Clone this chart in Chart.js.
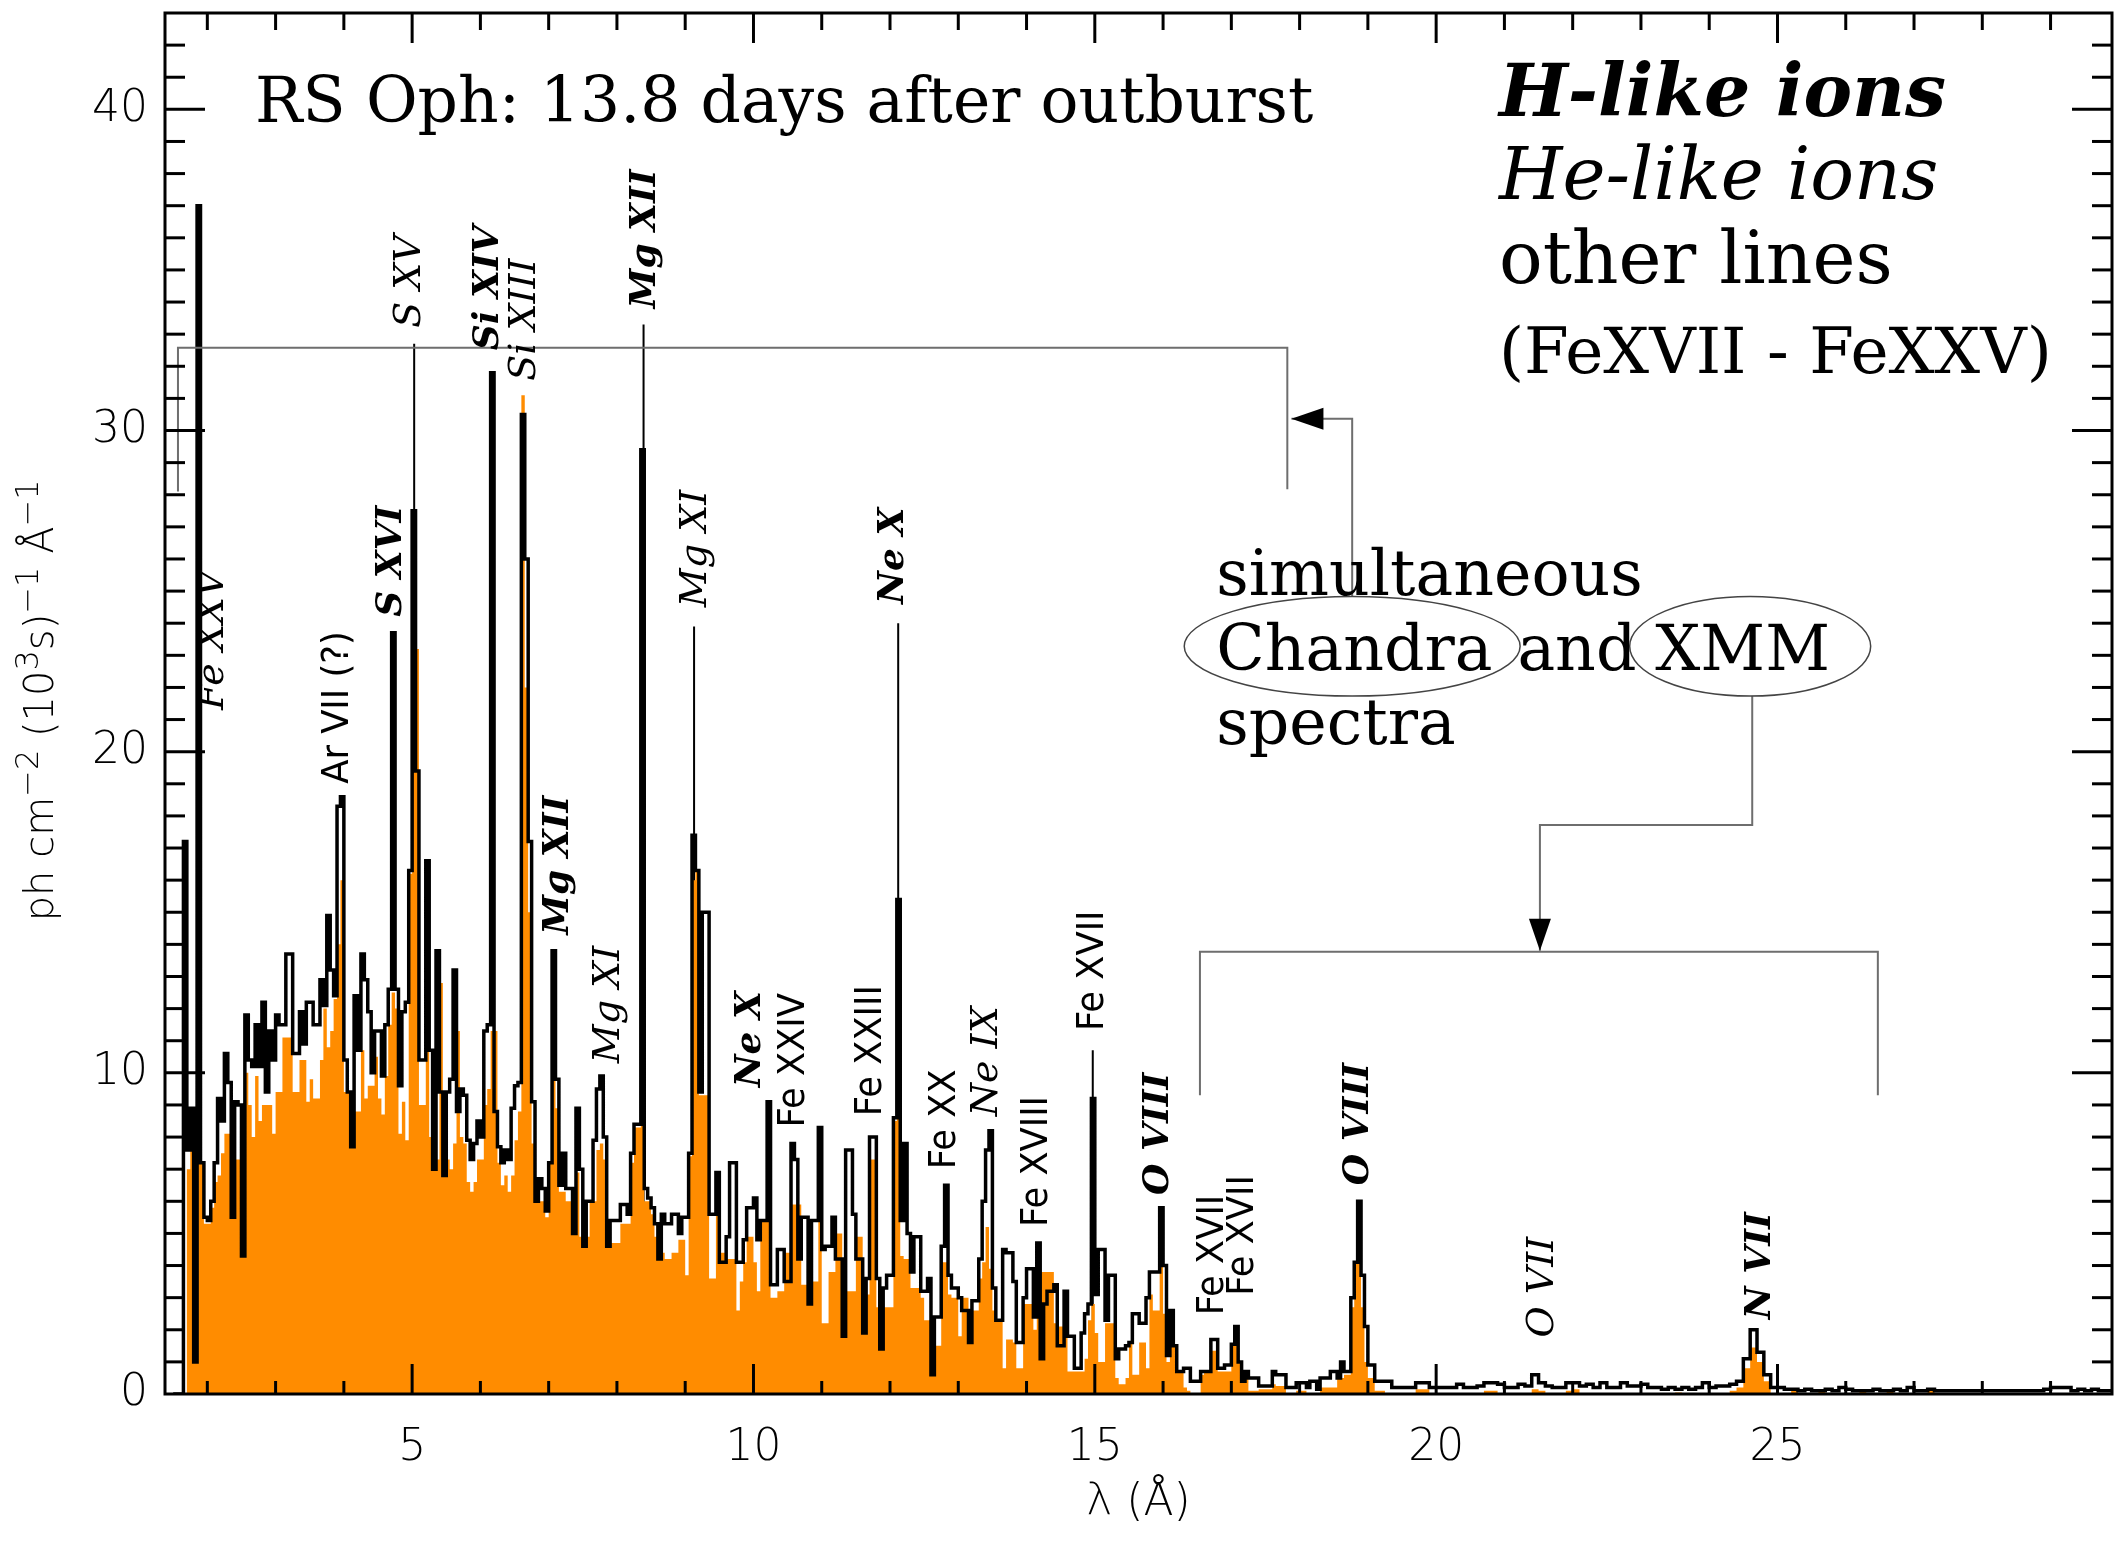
<!DOCTYPE html>
<html lang="en">
<head>
<meta charset="utf-8">
<title>RS Oph X-ray spectrum</title>
<script src="https://cdn.jsdelivr.net/npm/chart.js@4.4.1/dist/chart.umd.min.js"></script>
<style>
  html, body { margin: 0; padding: 0; background: #ffffff; }
  #frame { position: relative; width: 2115px; height: 1542px; }
</style>
</head>
<body>
<div id="frame"><canvas id="spectrumChart" width="2115" height="1542"></canvas></div>
<script>
// RS Oph, 13.8 days after outburst: simultaneous Chandra (black) and XMM (orange) spectra

// wavelength grid in Å: 0.05 Å bins below 20 Å, 0.1 Å bins above
const FINE_START = 1.50;
const FINE_STEP = 0.05;
const COARSE_START = 20.0;
const COARSE_STEP = 0.1;
const SPEC_END = 29.9;

// Chandra flux, ph cm^-2 (10^3 s)^-1 Å^-1, one row per 0.5 Å
const chandraFine = [
  0, 0, 0, 17.2, 7.6, 8.9, 1.0, 37.0, 7.2, 5.5,            // 1.50
  5.4, 6.0, 7.2, 9.2, 8.5, 10.6, 9.7, 5.5, 9.1, 9.0,       // 2.00
  4.3, 11.8, 10.4, 10.2, 11.5, 10.2, 12.2, 9.4, 11.3, 10.4, // 2.50
  11.8, 11.5, 11.5, 13.7, 13.7, 10.6, 10.6, 11.9, 10.9, 12.2, // 3.00
  12.2, 11.5, 11.5, 12.9, 12.1, 14.9, 13.2, 12.4, 18.3, 18.6, // 3.50
  10.4, 9.4, 7.7, 12.4, 10.7, 13.7, 12.9, 11.9, 10.0, 11.3, // 4.00
  11.3, 9.9, 11.5, 12.6, 23.7, 12.6, 9.6, 11.9, 12.2, 16.3, // 4.50
  27.5, 19.4, 10.4, 10.4, 16.6, 10.7, 7.0, 13.8, 9.4, 6.8,  // 5.00
  9.4, 9.8, 13.2, 8.8, 9.5, 9.3, 7.9, 7.3, 7.8, 8.5,        // 5.50
  8.0, 11.3, 11.5, 31.8, 8.8, 7.7, 7.2, 7.6, 7.3, 8.9,      // 6.00
  9.6, 9.7, 30.5, 26.0, 17.2, 9.1, 6.0, 6.7, 6.4, 5.7,      // 6.50
  7.2, 13.8, 9.8, 6.5, 7.5, 6.4, 6.4, 5.0, 8.9, 7.0,        // 7.00
  4.6, 6.0, 6.0, 7.9, 9.5, 9.9, 8.0, 4.6, 5.4, 5.4,         // 7.50
  5.4, 5.9, 5.9, 5.6, 7.5, 8.4, 8.4, 29.4, 6.4, 6.1,        // 8.00
  5.8, 5.3, 4.2, 5.6, 5.3, 5.3, 5.6, 5.6, 5.0, 5.5,         // 8.50
  5.5, 7.5, 17.4, 16.3, 9.4, 15.0, 15.0, 5.6, 5.6, 6.9,     // 9.00
  4.1, 4.1, 4.9, 7.2, 7.2, 4.1, 4.1, 4.8, 5.8, 5.8,         // 9.50
  6.1, 4.8, 5.4, 5.4, 9.1, 3.4, 3.4, 4.5, 4.5, 3.5,         // 10.00
  3.5, 7.8, 7.3, 4.2, 5.5, 5.5, 2.8, 5.4, 5.4, 8.3,         // 10.50
  4.5, 4.6, 4.6, 5.5, 4.2, 4.2, 1.8, 7.6, 7.6, 5.6,         // 11.00
  4.2, 4.2, 1.9, 3.6, 8.0, 8.0, 3.6, 1.4, 3.3, 3.7,         // 11.50
  3.7, 8.6, 15.4, 5.4, 7.8, 5.0, 3.8, 4.9, 4.9, 3.2,        // 12.00
  3.2, 3.6, 0.6, 2.4, 2.4, 4.6, 6.5, 3.7, 3.3, 3.3,         // 12.50
  3.0, 2.6, 2.6, 1.6, 2.9, 2.9, 4.2, 6.0, 7.6, 8.2,         // 13.00
  3.3, 2.3, 2.3, 4.5, 4.4, 4.4, 3.5, 1.6, 1.6, 3.0,         // 13.50
  3.9, 3.9, 2.4, 4.7, 1.1, 2.8, 3.2, 3.2, 3.4, 1.5,         // 14.00
  1.5, 3.2, 1.8, 1.8, 0.8, 0.8, 1.9, 2.5, 2.8, 9.2,         // 14.50
  3.1, 4.5, 4.5, 2.3, 3.7, 3.7, 1.1, 1.4, 1.4, 1.5,         // 15.00
  1.6, 2.5, 2.5, 2.2, 2.2, 3.0, 3.8, 3.8, 3.8, 5.8,         // 15.50
  4.0, 1.2, 2.6, 1.5, 0.7, 0.7, 0.8, 0.8, 0.4, 0.4,         // 16.00
  0.4, 0.7, 0.7, 0.7, 1.7, 1.7, 0.8, 0.8, 0.9, 0.9,         // 16.50
  1.55, 2.1, 1.0, 0.4, 0.7, 0.5, 0.5, 0.5, 0.25, 0.25,      // 17.00
  0.25, 0.25, 0.7, 0.6, 0.6, 0.6, 0.2, 0.2, 0.2, 0.35,      // 17.50
  0.35, 0.35, 0.2, 0.4, 0.4, 0.15, 0.5, 0.5, 0.5, 0.7,      // 18.00
  0.7, 0.5, 1.0, 0.7, 0.7, 3.0, 4.1, 6.0, 3.7, 2.1,         // 18.50
  0.9, 0.9, 0.4, 0.4, 0.4, 0.4, 0.4, 0.2, 0.2, 0.2,         // 19.00
  0.2, 0.2, 0.2, 0.2, 0.35, 0.35, 0.35, 0.35, 0.2, 0.2      // 19.50
];

// XMM flux, same bins
const xmmFine = [
  0, 0, 0, 0, 7.0, 8.7, 7.0, 9.0, 7.2, 5.3,                // 1.50
  5.3, 5.8, 6.6, 6.8, 7.5, 8.1, 8.1, 7.3, 7.3, 7.3,         // 2.00
  8.0, 10.0, 9.0, 8.0, 9.9, 8.5, 9.0, 9.0, 9.0, 8.1,        // 2.50
  9.4, 9.4, 11.1, 11.1, 11.1, 9.4, 9.4, 10.4, 10.4, 9.1,    // 3.00
  9.8, 9.2, 9.2, 10.4, 12.0, 10.8, 11.3, 12.3, 14.0, 16.0,  // 3.50
  9.4, 9.4, 8.5, 8.8, 8.8, 10.7, 9.2, 9.6, 9.6, 10.5,       // 4.00
  9.2, 8.7, 9.9, 11.5, 12.5, 12.0, 8.1, 9.1, 7.9, 16.2,     // 4.50
  19.4, 23.2, 9.0, 9.0, 16.5, 8.0, 7.0, 7.3, 12.8, 6.8,     // 5.00
  7.3, 7.0, 7.8, 11.3, 8.0, 7.8, 6.6, 6.3, 6.6, 7.3,        // 5.50
  7.3, 9.0, 9.5, 11.3, 11.3, 7.2, 6.5, 6.8, 6.3, 6.8,       // 6.00
  7.9, 8.8, 31.1, 22.0, 15.0, 7.8, 6.0, 6.0, 6.0, 5.5,      // 6.50
  7.2, 9.8, 8.9, 6.3, 6.3, 6.0, 6.0, 5.0, 6.9, 4.9,         // 7.00
  4.6, 4.9, 6.0, 6.0, 7.6, 7.8, 7.3, 4.7, 4.7, 4.7,         // 7.50
  4.7, 5.3, 5.3, 5.3, 7.2, 8.3, 8.3, 21.3, 6.0, 6.0,        // 8.00
  5.6, 4.9, 4.4, 4.4, 4.2, 4.2, 4.4, 4.4, 4.8, 4.8,         // 8.50
  3.7, 7.4, 16.0, 16.3, 9.3, 9.3, 9.3, 3.6, 3.6, 5.6,       // 9.00
  4.4, 4.4, 4.2, 4.2, 4.2, 2.6, 3.5, 4.1, 4.9, 4.9,         // 9.50
  4.1, 3.2, 5.4, 5.4, 8.3, 3.0, 3.0, 3.2, 3.2, 4.4,         // 10.00
  4.4, 5.9, 5.9, 5.9, 3.4, 3.4, 4.1, 3.5, 3.5, 8.3,         // 10.50
  2.2, 2.2, 3.8, 3.8, 5.0, 5.0, 3.6, 3.2, 3.2, 3.2,         // 11.00
  4.9, 4.9, 3.1, 3.1, 7.3, 7.3, 2.7, 2.2, 2.7, 2.7,         // 11.50
  2.7, 8.5, 11.9, 4.3, 4.2, 4.2, 3.3, 3.3, 3.3, 3.0,        // 12.00
  2.3, 2.3, 1.5, 1.5, 1.5, 4.1, 4.1, 3.1, 3.0, 3.0,         // 12.50
  1.8, 3.0, 3.0, 1.6, 2.6, 2.6, 3.6, 4.1, 5.2, 3.9,         // 13.00
  2.6, 2.3, 2.3, 0.8, 1.7, 1.7, 1.6, 0.8, 0.8, 2.8,         // 13.50
  2.8, 2.8, 2.0, 3.8, 3.8, 3.8, 3.8, 3.8, 2.2, 2.1,         // 14.00
  2.1, 2.1, 0.7, 0.7, 0.7, 0.7, 0.7, 1.1, 2.3, 2.8,         // 14.50
  1.9, 1.0, 1.0, 2.2, 2.2, 2.2, 0.5, 0.3, 0.3, 0.5,         // 15.00
  1.6, 0.6, 0.6, 1.6, 1.6, 0.8, 3.1, 2.6, 2.6, 5.8,         // 15.50
  2.5, 1.0, 2.5, 1.5, 0.7, 0.7, 0.2, 0.1, 0.0, 0.0,         // 16.00
  0.0, 0.6, 0.7, 0.7, 1.35, 1.35, 0.7, 0.7, 0.7, 0.7,       // 16.50
  1.5, 1.65, 1.0, 0.4, 0.6, 0.1, 0.1, 0.1, 0.15, 0.15,      // 17.00
  0.15, 0.15, 0.3, 0.25, 0.25, 0.25, 0.0, 0.0, 0.0, 0.1,    // 17.50
  0.1, 0.1, 0.0, 0.0, 0.0, 0.0, 0.2, 0.2, 0.2, 0.2,         // 18.00
  0.2, 0.5, 0.5, 0.6, 0.6, 2.7, 4.1, 4.1, 2.7, 1.0,         // 18.50
  0.5, 0.5, 0.1, 0.1, 0.1, 0.0, 0.0, 0.0, 0.0, 0.0,         // 19.00
  0.0, 0.0, 0.0, 0.0, 0.15, 0.15, 0.15, 0.15, 0.0, 0.0      // 19.50
];

// one row per Å, 20.0 .. 29.8
const chandraCoarse = [
  0.2, 0.2, 0.2, 0.3, 0.2, 0.2, 0.25, 0.35, 0.35, 0.3,      // 20
  0.2, 0.2, 0.3, 0.25, 0.6, 0.35, 0.25, 0.2, 0.2, 0.35,     // 21
  0.35, 0.25, 0.3, 0.2, 0.35, 0.2, 0.2, 0.35, 0.25, 0.25,   // 22
  0.3, 0.2, 0.2, 0.15, 0.2, 0.15, 0.2, 0.15, 0.2, 0.35,     // 23
  0.2, 0.25, 0.25, 0.3, 0.4, 1.1, 2.0, 1.3, 0.6, 0.2,       // 24
  0.2, 0.15, 0.15, 0.1, 0.15, 0.1, 0.1, 0.15, 0.1, 0.2,     // 25
  0.15, 0.1, 0.1, 0.1, 0.15, 0.1, 0.1, 0.15, 0.1, 0.2,      // 26
  0.1, 0.1, 0.15, 0.1, 0.1, 0.1, 0.1, 0.1, 0.1, 0.1,        // 27
  0.1, 0.1, 0.1, 0.1, 0.1, 0.1, 0.1, 0.1, 0.1, 0.15,        // 28
  0.2, 0.2, 0.2, 0.1, 0.15, 0.1, 0.15, 0.1, 0.1             // 29
];

const xmmCoarse = [
  0, 0, 0, 0, 0, 0, 0, 0.1, 0.1, 0,                         // 20
  0, 0, 0, 0, 0.15, 0.1, 0, 0, 0, 0.1,                      // 21
  0.15, 0, 0, 0, 0, 0, 0, 0, 0, 0,                          // 22
  0, 0, 0, 0, 0, 0.05, 0, 0, 0, 0,                          // 23
  0, 0, 0, 0.1, 0.2, 0.8, 1.45, 1.0, 0.4, 0,                // 24
  0, 0, 0.1, 0, 0, 0, 0.1, 0, 0, 0,                         // 25
  0, 0, 0.1, 0, 0, 0, 0.1, 0, 0, 0,                         // 26
  0, 0, 0.1, 0, 0, 0, 0, 0, 0, 0,                           // 27
  0, 0, 0, 0, 0, 0, 0, 0, 0, 0,                             // 28
  0, 0, 0, 0, 0, 0, 0, 0, 0                                 // 29
];

// thin marker lines above the strongest peaks
const leaderWave = [5.03, 8.39, 9.13, 12.12, 14.97];
const leaderTop = [32.7, 33.3, 23.9, 24.0, 10.7];

// line identifications
const lineLabelText = ['Fe XXV', 'Ar VII (?)', 'S XVI', 'S XV', 'Si XIV', 'Si XIII', 'Mg XII', 'Mg XI',
  'Mg XII', 'Mg XI', 'Ne X', 'Fe XXIV', 'Fe XXIII', 'Ne X', 'Fe XX', 'Ne IX', 'Fe XVIII', 'Fe XVII',
  'O VIII', 'Fe XVII', 'Fe XVII', 'O VIII', 'O VII', 'N VII'];
const lineLabelWave = [2.08, 3.92, 4.70, 4.97, 6.12, 6.65, 7.14, 7.88, 8.42, 9.16, 9.96, 10.59,
  11.72, 12.06, 12.81, 13.42, 14.15, 14.97, 15.93, 16.74, 17.17, 18.86, 21.56, 24.76];
const lineLabelBase = [21.3, 19.0, 24.2, 33.2, 32.5, 31.55, 14.3, 10.3, 33.8, 24.5, 9.55, 8.3,
  8.65, 24.6, 7.0, 8.65, 5.2, 11.3, 6.2, 2.45, 3.06, 6.5, 1.76, 2.33];
const lineLabelKind = ['he', 'other', 'h', 'he', 'h', 'he', 'h', 'he', 'h', 'he', 'h', 'other',
  'other', 'h', 'other', 'he', 'other', 'other', 'h', 'other', 'other', 'h', 'he', 'h'];

const xTickValues = [5, 10, 15, 20, 25];
const yTickValues = [0, 10, 20, 30, 40];

const titleText = 'RS Oph: 13.8 days after outburst';
const legendText = ['H-like ions', 'He-like ions', 'other lines', '(FeXVII - FeXXV)'];
const noteWords = ['simultaneous', 'Chandra', 'and', 'XMM', 'spectra'];
// y axis title pieces: [text, superscript?]
const yTitleParts = [['ph cm', false], ['\u22122', true], [' (10', false], ['3', true], ['s)', false],
  ['\u22121', true], [' \u00C5', false], ['\u22121', true]];

// ---- layout (data coordinates) ----
const SERIF = '"DejaVu Serif", serif';
const SANS = '"DejaVu Sans", sans-serif';
const ORANGE = '#ff8c00';
const GUIDE = '#6e6e6e';

const labelStyle = {
    h: { font: 'italic bold 36px ' + SERIF, squeeze: 1 },
    he: { font: 'italic 38px ' + SERIF, squeeze: 1 },
    other: { font: '38px ' + SANS, squeeze: 0.93 }
};

const titlePos = { left: 2.70, right: 18.2, base: 39.6 };
const legendLeft = 20.92;
const legendRight = [27.47, 27.36, 26.69, 29.02];
const legendBase = [39.8, 37.2, 34.6, 31.8];
const legendFont = ['italic bold', 'italic', 'normal', 'normal'];
const noteLeft = [16.78, 16.78, 21.19, 23.21, 16.78];
const noteBase = [24.88, 22.54, 22.54, 22.54, 20.24];
const noteFitRight = 23.03;

const ellipseCenter = [18.77, 24.60];
const ellipseRx = [2.46, 1.765];
const ellipseCy = 23.28;
const ellipseRy = 1.55;

const chandraBracket = [[1.57, 28.1], [1.57, 32.58], [17.82, 32.58], [17.82, 28.17]];
const xmmBracket = [[16.54, 9.3], [16.54, 13.77], [26.47, 13.77], [26.47, 9.3]];
const chandraLink = [[18.77, 24.83], [18.77, 30.37], [17.88, 30.37]];
const xmmLink = [[24.63, 21.73], [24.63, 17.72], [21.52, 17.72], [21.52, 13.80]];

// 构建阶梯直方图数据
function buildHistogram(fine, coarse) {
    const pts = fine.map((v, i) => ({ x: +(FINE_START + i * FINE_STEP).toFixed(2), y: v }));
    coarse.forEach((v, i) => pts.push({ x: +(COARSE_START + i * COARSE_STEP).toFixed(2), y: v }));
    pts.push({ x: SPEC_END, y: coarse[coarse.length - 1] });
    return pts;
}

function buildLeaders() {
    const pts = [];
    leaderWave.forEach((w, i) => {
        pts.push({ x: w, y: 0 }, { x: w, y: leaderTop[i] }, { x: w, y: null });
    });
    return pts;
}

function fitFontSize(ctx, text, style, family, width) {
    ctx.font = style + ' 100px ' + family;
    return 100 * width / ctx.measureText(text).width;
}

function strokePath(ctx, pts) {
    ctx.beginPath();
    pts.forEach((p, i) => (i ? ctx.lineTo(p[0], p[1]) : ctx.moveTo(p[0], p[1])));
    ctx.stroke();
}

function arrowHead(ctx, from, tip) {
    const a = Math.atan2(tip[1] - from[1], tip[0] - from[0]);
    const len = 32, half = 11;
    const bx = tip[0] - len * Math.cos(a), by = tip[1] - len * Math.sin(a);
    ctx.beginPath();
    ctx.moveTo(tip[0], tip[1]);
    ctx.lineTo(bx + half * Math.sin(a), by - half * Math.cos(a));
    ctx.lineTo(bx - half * Math.sin(a), by + half * Math.cos(a));
    ctx.closePath();
    ctx.fill();
}

function seg(ctx, x1, y1, x2, y2) {
    ctx.beginPath();
    ctx.moveTo(x1, y1);
    ctx.lineTo(x2, y2);
    ctx.stroke();
}

// y 轴标题（带上标）
function drawYTitle(ctx, cx, cy) {
    const baseFont = '200 40px ' + SANS;
    const supFont = '200 32px ' + SANS;
    let total = 0;
    const widths = yTitleParts.map(([t, sup]) => {
        ctx.font = sup ? supFont : baseFont;
        const w = ctx.measureText(t).width;
        total += w;
        return w;
    });
    ctx.save();
    ctx.translate(cx, cy);
    ctx.rotate(-Math.PI / 2);
    ctx.textAlign = 'left';
    ctx.textBaseline = 'alphabetic';
    let pos = -total / 2;
    yTitleParts.forEach(([t, sup], i) => {
        ctx.font = sup ? supFont : baseFont;
        ctx.fillText(t, pos, sup ? -15 : 0);
        pos += widths[i];
    });
    ctx.restore();
}

// 注释、标签、边框和刻度
const spectrumDecor = {
    id: 'spectrumDecor',
    afterDatasetsDraw(chart) {
        const { ctx, chartArea: area } = chart;
        const xs = chart.scales.x, ys = chart.scales.y;
        const px = v => xs.getPixelForValue(v);
        const py = v => ys.getPixelForValue(v);
        const toPx = p => [px(p[0]), py(p[1])];

        ctx.save();

        // brackets and connectors
        ctx.strokeStyle = GUIDE;
        ctx.lineWidth = 2;
        [chandraBracket, xmmBracket, chandraLink, xmmLink].forEach(path => strokePath(ctx, path.map(toPx)));
        ctx.fillStyle = '#000';
        [chandraLink, xmmLink].forEach(path => {
            const p = path.map(toPx);
            arrowHead(ctx, p[p.length - 2], p[p.length - 1]);
        });

        // ellipses round the instrument names
        ctx.strokeStyle = '#444';
        ctx.lineWidth = 1.5;
        ellipseCenter.forEach((c, i) => {
            ctx.beginPath();
            ctx.ellipse(px(c), py(ellipseCy), px(c + ellipseRx[i]) - px(c), py(ellipseCy - ellipseRy) - py(ellipseCy), 0, 0, Math.PI * 2);
            ctx.stroke();
        });

        // title, legend and note
        ctx.fillStyle = '#000';
        ctx.textAlign = 'left';
        ctx.textBaseline = 'alphabetic';
        let size = fitFontSize(ctx, titleText, 'normal', SERIF, px(titlePos.right) - px(titlePos.left));
        ctx.font = size.toFixed(1) + 'px ' + SERIF;
        ctx.fillText(titleText, px(titlePos.left), py(titlePos.base));

        legendText.forEach((t, i) => {
            const s = fitFontSize(ctx, t, legendFont[i], SERIF, px(legendRight[i]) - px(legendLeft));
            ctx.font = legendFont[i] + ' ' + s.toFixed(1) + 'px ' + SERIF;
            ctx.fillText(t, px(legendLeft), py(legendBase[i]));
        });

        size = fitFontSize(ctx, noteWords[0], 'normal', SERIF, px(noteFitRight) - px(noteLeft[0]));
        ctx.font = size.toFixed(1) + 'px ' + SERIF;
        noteWords.forEach((t, i) => ctx.fillText(t, px(noteLeft[i]), py(noteBase[i])));

        // rotated line identifications
        ctx.textBaseline = 'middle';
        lineLabelText.forEach((t, i) => {
            const st = labelStyle[lineLabelKind[i]];
            ctx.save();
            ctx.translate(px(lineLabelWave[i]), py(lineLabelBase[i]));
            ctx.rotate(-Math.PI / 2);
            ctx.scale(st.squeeze, 1);
            ctx.font = st.font;
            ctx.fillText(t, 0, 0);
            ctx.restore();
        });

        // frame and inward ticks on all sides
        ctx.strokeStyle = '#000';
        ctx.lineWidth = 3;
        for (let w = Math.ceil(xs.min); w <= Math.floor(xs.max); w++) {
            const major = w % 5 === 0;
            const x = px(w);
            seg(ctx, x, area.bottom, x, area.bottom - (major ? 30 : 13));
            seg(ctx, x, area.top, x, area.top + (major ? 30 : 17));
        }
        for (let v = 1; v < ys.max; v++) {
            const major = v % 10 === 0;
            const y = py(v);
            seg(ctx, area.left, y, area.left + (major ? 40 : 20), y);
            seg(ctx, area.right, y, area.right - (major ? 40 : 20), y);
        }
        ctx.strokeRect(area.left, area.top, area.right - area.left, area.bottom - area.top);

        drawYTitle(ctx, 53, py(21.6));

        ctx.restore();
    }
};

const tickFont = { family: SANS, size: 44, weight: '200' };

new Chart(document.getElementById('spectrumChart'), {
    type: 'line',
    data: {
        datasets: [{
            label: 'Chandra',
            data: buildHistogram(chandraFine, chandraCoarse),
            borderColor: '#000',
            borderWidth: 3.5,
            borderJoinStyle: 'miter',
            stepped: true,
            fill: false,
            pointRadius: 0,
            order: 0
        }, {
            label: 'XMM',
            data: buildHistogram(xmmFine, xmmCoarse),
            borderColor: 'rgba(0,0,0,0)',
            borderWidth: 0,
            backgroundColor: ORANGE,
            stepped: true,
            fill: 'origin',
            pointRadius: 0,
            order: 1
        }, {
            label: 'markers',
            data: buildLeaders(),
            borderColor: '#000',
            borderWidth: 2,
            fill: false,
            spanGaps: false,
            pointRadius: 0,
            order: 2
        }]
    },
    options: {
        responsive: false,
        devicePixelRatio: 1,
        animation: false,
        layout: { padding: { top: 13, right: 3, bottom: 0, left: 0 } },
        plugins: {
            legend: { display: false },
            tooltip: { enabled: false }
        },
        scales: {
            x: {
                type: 'linear',
                min: 1.38,
                max: 29.9,
                afterBuildTicks: scale => { scale.ticks = xTickValues.map(v => ({ value: v })); },
                afterFit: scale => {
                    scale.height = 148;
                    scale.paddingLeft = 0;
                    scale.paddingRight = 0;
                },
                grid: { display: false, drawTicks: false },
                border: { display: false },
                ticks: { color: '#000', padding: 28, maxRotation: 0, autoSkip: false, font: tickFont },
                title: {
                    display: true,
                    text: '\u03BB (\u00C5)',
                    color: '#000',
                    font: tickFont,
                    padding: { top: 0, bottom: 12 }
                }
            },
            y: {
                type: 'linear',
                min: 0,
                max: 43,
                afterBuildTicks: scale => { scale.ticks = yTickValues.map(v => ({ value: v })); },
                afterFit: scale => {
                    scale.width = 165;
                    scale.paddingTop = 0;
                    scale.paddingBottom = 0;
                },
                grid: { display: false, drawTicks: false },
                border: { display: false },
                ticks: { color: '#000', padding: 17, font: tickFont }
            }
        }
    },
    plugins: [spectrumDecor]
});
</script>
</body>
</html>
